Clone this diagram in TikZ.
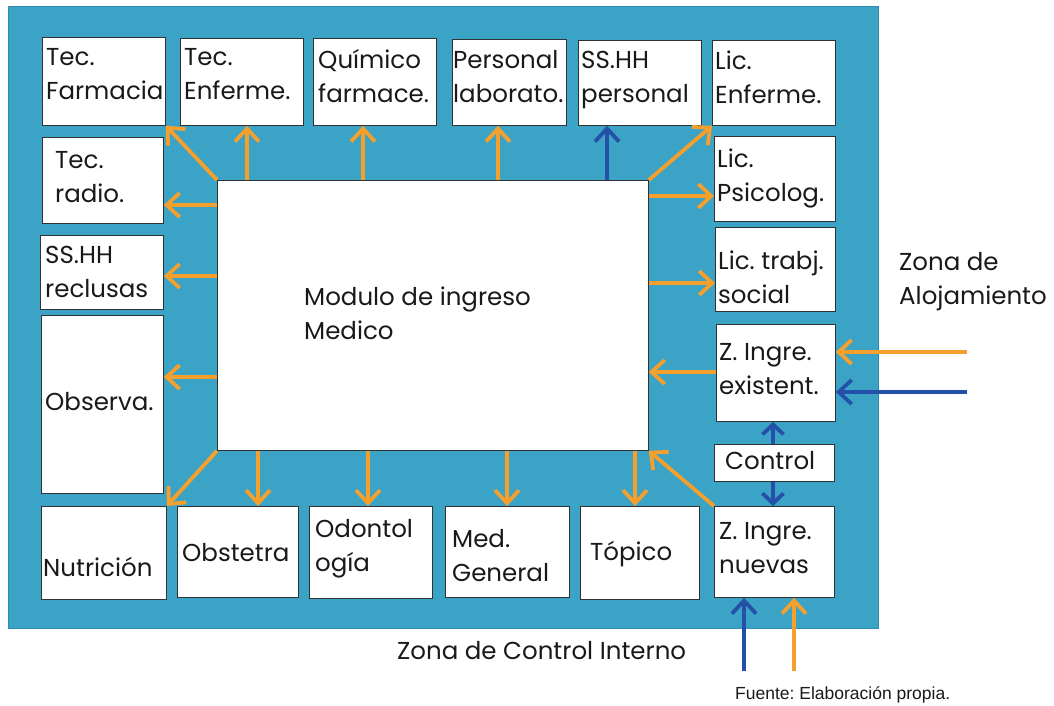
\documentclass[tikz,border=0pt]{standalone}
\usepackage{fontspec}
\setmainfont{Poppins}
\newfontfamily\fuentefont{Liberation Sans}
\usetikzlibrary{arrows.meta}
\definecolor{bgblue}{RGB}{59,163,198}
\definecolor{bgedge}{RGB}{45,140,175}
\definecolor{orng}{RGB}{245,160,45}
\definecolor{dblue}{RGB}{36,80,168}
\definecolor{boxc}{RGB}{50,50,50}
\definecolor{txtc}{RGB}{25,25,25}
\tikzset{
  bx/.style={draw=boxc, fill=white, line width=0.8pt, inner sep=0pt, anchor=north west},
  lbl/.style={inner sep=0pt, anchor=north west, align=left, text=txtc, font=\fontsize{24.5}{34}\selectfont},
  oarr/.style={draw=orng, line width=3.8pt, -{Straight Barb[length=13pt,width=24pt]}},
  barr/.style={draw=dblue, line width=3.8pt, -{Straight Barb[length=13pt,width=24pt]}},
  sbarr/.style={draw=dblue, line width=3.8pt, -{Straight Barb[length=10pt,width=21pt]}},
}
\begin{document}
\frenchspacing
\begin{tikzpicture}[x=1pt,y=-1pt]
\useasboundingbox (0,0) rectangle (1054,706);
\node[draw=bgedge, fill=bgblue, line width=1pt, inner sep=0pt, anchor=north west, minimum width=870pt, minimum height=622pt] (bg) at (8,6) {};
% central module
\node[bx, minimum width=431pt, minimum height=270pt] (mod) at (217,180) {};
\node[lbl] (modt) at (304,287) {Modulo de ingreso\\Medico};
% top row
\node[bx, minimum width=123pt, minimum height=88pt] (tecf) at (42,37) {};
\node[lbl] (tecft) at (46,48) {Tec.\\Farmacia};
\node[bx, minimum width=123pt, minimum height=87pt] (tecenf) at (180,38) {};
\node[lbl] (tecenft) at (184,48) {Tec.\\Enferme.};
\node[bx, minimum width=123pt, minimum height=87pt] (quim) at (313,38) {};
\node[lbl] (quimt) at (318,49) {Químico\\farmace.};
\node[bx, minimum width=114pt, minimum height=86pt] (perslab) at (452,39) {};
\node[lbl] (perslabt) at (453,50) {Personal\\laborato.};
\node[bx, minimum width=123pt, minimum height=85pt] (sshhp) at (578,40) {};
\node[lbl] (sshhpt) at (581,51) {SS.HH\\personal};
\node[bx, minimum width=123pt, minimum height=85pt] (licenf) at (712,40) {};
\node[lbl] (licenft) at (715,51) {Lic.\\Enferme.};
% left column
\node[bx, minimum width=121pt, minimum height=86pt] (tecrad) at (42,137) {};
\node[lbl] (tecradt) at (55,151) {Tec.\\radio.};
\node[bx, minimum width=123pt, minimum height=74pt] (sshhr) at (40,235) {};
\node[lbl] (sshhrt) at (45,246) {SS.HH\\reclusas};
\node[bx, minimum width=122pt, minimum height=178pt] (obs) at (41,315) {};
\node[lbl] (obst) at (45,392) {Observa.};
% bottom row
\node[bx, minimum width=125pt, minimum height=93pt] (nutr) at (41,506) {};
\node[lbl] (nutrt) at (43,557) {Nutrición};
\node[bx, minimum width=121pt, minimum height=91pt] (obste) at (177,506) {};
\node[lbl] (obstet) at (182,543) {Obstetra};
\node[bx, minimum width=123pt, minimum height=92pt] (odon) at (309,506) {};
\node[lbl] (odont) at (315,519) {Odontol\\ogía};
\node[bx, minimum width=124pt, minimum height=91pt] (medg) at (445,506) {};
\node[lbl] (medgt) at (452,529) {Med.\\General};
\node[bx, minimum width=119pt, minimum height=93pt] (topico) at (580,506) {};
\node[lbl] (topicot) at (590,541) {Tópico};
% right column
\node[bx, minimum width=121pt, minimum height=85pt] (licpsi) at (714,136) {};
\node[lbl] (licpsit) at (717,149) {Lic.\\Psicolog.};
\node[bx, minimum width=120pt, minimum height=84pt] (lictrab) at (715,227) {};
\node[lbl] (lictrabt) at (718,251) {Lic. trabj.\\social};
\node[bx, minimum width=119pt, minimum height=97pt] (zie) at (716,324) {};
\node[lbl] (ziet) at (719,343) {Z. Ingre.\\existent.};
\node[bx, minimum width=120pt, minimum height=37pt] (ctrl) at (714,444) {};
\node[lbl] (ctrlt) at (725,451) {Control};
\node[bx, minimum width=120pt, minimum height=91pt] (zin) at (714,506) {};
\node[lbl] (zint) at (719,522) {Z. Ingre.\\nuevas};
% outside labels
\node[lbl] (zona1) at (899,252) {Zona de\\Alojamiento};
\node[lbl] (zona2) at (397,641) {Zona de Control Interno};
\node[inner sep=0pt, anchor=north west, text=txtc, font=\fuentefont\fontsize{17.5}{20}\selectfont] (fuente) at (735,686) {Fuente: Elaboración propia.};
% helper coordinates
\coordinate (c1) at (247,0);
\coordinate (c2) at (363,0);
\coordinate (c3) at (498,0);
\coordinate (c4) at (607,0);
\coordinate (c5) at (0,196);
\coordinate (c6) at (0,283);
\coordinate (c7) at (0,205);
\coordinate (c8) at (0,276);
\coordinate (c9) at (0,377);
\coordinate (c10) at (258,0);
\coordinate (c11) at (368,0);
\coordinate (c12) at (507,0);
\coordinate (c13) at (635,0);
\coordinate (c14) at (0,372);
\coordinate (c15) at (773,0);
\coordinate (inA) at (967,352);
\coordinate (inB) at (967,392);
\coordinate (inC) at (744,671);
\coordinate (inD) at (794,671);
% top arrows
\draw[oarr] (mod.north west) -- (tecf.south east);
\draw[oarr] (c1 |- mod.north) -- (c1 |- tecenf.south);
\draw[oarr] (c2 |- mod.north) -- (c2 |- quim.south);
\draw[oarr] (c3 |- mod.north) -- (c3 |- perslab.south);
\draw[barr] (c4 |- mod.north) -- (c4 |- sshhp.south);
\draw[oarr] (mod.north east) -- (licenf.south west);
% right arrows
\draw[oarr] (c5 -| mod.east) -- (c5 -| licpsi.west);
\draw[oarr] (c6 -| mod.east) -- (c6 -| lictrab.west);
\draw[oarr] (c14 -| zie.west) -- (c14 -| mod.east);
% left arrows
\draw[oarr] (c7 -| mod.west) -- (c7 -| tecrad.east);
\draw[oarr] (c8 -| mod.west) -- (c8 -| sshhr.east);
\draw[oarr] (c9 -| mod.west) -- (c9 -| obs.east);
% bottom arrows
\draw[oarr] (mod.south west) -- (nutr.north east);
\draw[oarr] (c10 |- mod.south) -- (c10 |- obste.north);
\draw[oarr] (c11 |- mod.south) -- (c11 |- odon.north);
\draw[oarr] (c12 |- mod.south) -- (c12 |- medg.north);
\draw[oarr] (c13 |- mod.south) -- (c13 |- topico.north);
\draw[oarr] (zin.north west) -- (mod.south east);
% control links
\draw[sbarr] (c15 |- ctrl.north) -- (c15 |- zie.south);
\draw[sbarr] (c15 |- ctrl.south) -- (c15 |- zin.north);
% incoming
\draw[oarr] (inA) -- (inA -| zie.east);
\draw[barr] (inB) -- (inB -| zie.east);
\draw[barr] (inC) -- (inC |- zin.south);
\draw[oarr] (inD) -- (inD |- zin.south);
\end{tikzpicture}
\end{document}
